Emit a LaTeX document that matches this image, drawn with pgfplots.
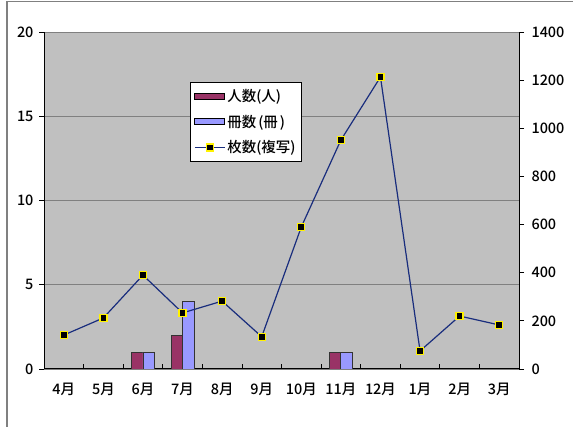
\documentclass[border=0pt]{standalone}
\usepackage{fontspec}
\setmainfont{Noto Sans CJK JP}[UprightFont=* Medium]
\usepackage{pgfplots}
\pgfplotsset{compat=1.18}
\definecolor{plotbg}{RGB}{192,192,192}
\definecolor{barA}{RGB}{153,51,102}
\definecolor{barB}{RGB}{153,153,255}
\definecolor{linec}{RGB}{25,45,125}
\definecolor{gridc}{RGB}{128,128,128}
\definecolor{framec}{RGB}{128,128,128}
\begin{document}
\begin{tikzpicture}[font=\fontsize{14.5}{17}\selectfont]
\useasboundingbox (-44bp,-58bp) rectangle (529bp,369bp);
\draw[framec, line width=1.5bp] (-37bp,-58bp) -- (-37bp,367.5bp) -- (529bp,367.5bp);
\pgfplotsset{
  common/.style={scale only axis, width=475bp, height=337bp, at={(0,0)}, anchor=south west,
    xmin=-0.5, xmax=11.5,
    /pgf/number format/assume math mode=true, /pgf/number format/1000 sep={},
    tick align=outside, major tick length=5bp,
    tick style={black, line width=0.8bp},
    axis line style={black, line width=1bp},
  },
  barlegend/.style={legend image code/.code={\draw[##1] (0bp,-3bp) rectangle (30bp,3bp);}},
  linelegend/.style={legend image code/.code={\draw[mark repeat=2,mark phase=2,##1] plot coordinates {(0bp,0bp) (15bp,0bp) (30bp,0bp)};}},
}
\begin{axis}[common,
  ymin=0, ymax=20, ytick={0,5,10,15,20},
  axis background/.style={fill=plotbg},
  axis x line*=bottom, axis y line*=left,
  ymajorgrids, grid style={gridc, line width=0.8bp},
  xtick={-0.5,0.5,...,11.5},
  x tick label as interval=true,
  xticklabels={4月,5月,6月,7月,8月,9月,10月,11月,12月,1月,2月,3月},
  major x tick style={yshift=5bp},
  xticklabel style={yshift=-6bp},
  yticklabel style={xshift=-2bp},
  ybar=0pt, bar width=11.5bp,
]
\addplot[fill=barA, draw=black!80, line width=0.8bp] coordinates {(2,1) (3,2) (7,1)};
\addplot[fill=barB, draw=black!80, line width=0.8bp] coordinates {(2,1) (3,4) (7,1)};
\end{axis}
\begin{axis}[common,
  ymin=0, ymax=1400, ytick={0,200,...,1400},
  axis x line=none, axis y line*=right,
  yticklabel style={xshift=4bp},
  legend style={at={(0.307,0.852)}, anchor=north west, draw=black, fill=white,
    line width=0.8bp, row sep=8bp, inner xsep=4bp, inner ysep=5bp,
    font=\fontsize{14.5}{17}\selectfont},
  legend cell align=left,
]
\addlegendimage{barlegend, fill=barA, draw=black, line width=0.8bp}
\addlegendentry{人数(人)}
\addlegendimage{barlegend, fill=barB, draw=black, line width=0.8bp}
\addlegendentry{冊数\hspace{2bp}(冊\hspace{2bp})}
\addplot[linec, line width=1.2bp, mark=square*, mark size=3.5bp,
  mark options={fill=black, draw=yellow, line width=1.3bp, solid}, linelegend]
  coordinates {(0,141) (1,212) (2,390) (3,233) (4,282) (5,134) (6,590) (7,951) (8,1213) (9,75) (10,220) (11,183)};
\addlegendentry{枚数(複写)}
\end{axis}
\end{tikzpicture}
\end{document}
